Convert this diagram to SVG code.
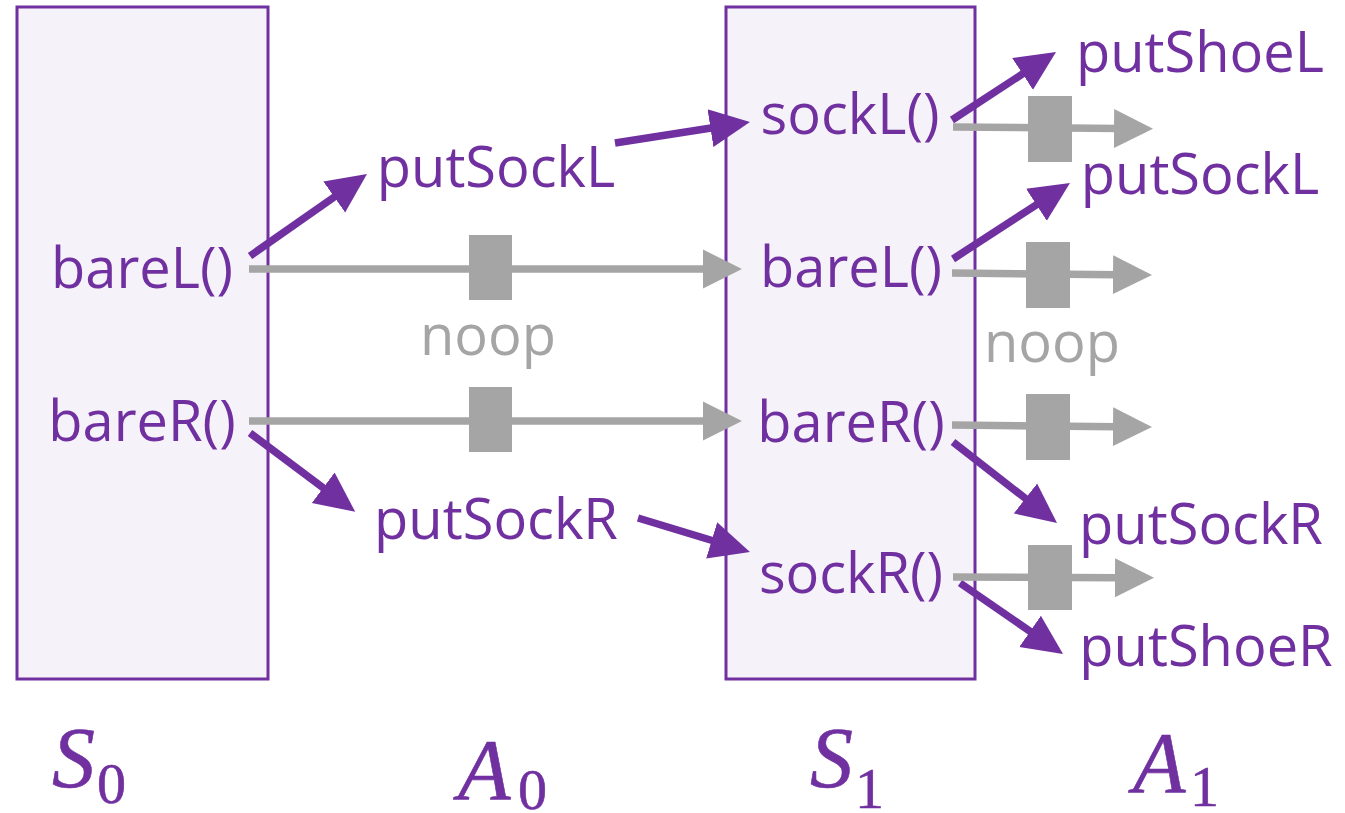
<svg xmlns="http://www.w3.org/2000/svg" width="1345" height="813" viewBox="0 0 1345 813">
  <style>
    .state { fill: #F5F2FA; stroke: #7030A0; stroke-width: 3; }
    .lbl { font-family: "Open Sans", "Liberation Sans", sans-serif; font-size: 56px; fill: #7030A0; text-anchor: middle; }
    .noop { font-family: "Open Sans", "Liberation Sans", sans-serif; font-size: 56px; fill: #A5A5A5; text-anchor: middle; }
    .act { stroke: #7030A0; stroke-width: 7.5; fill: none; marker-end: url(#headP); }
    .pass { stroke: #A5A5A5; stroke-width: 7.5; fill: none; marker-end: url(#headG); }
    .gate { fill: #A5A5A5; }
    .math { font-family: "Liberation Serif", "Times New Roman", serif; fill: #7030A0; stroke: #7030A0; stroke-width: 0.6; }
    .var { font-style: italic; font-size: 86px; }
    .sub { font-size: 58px; }
  </style>
  <defs>
    <marker id="headP" markerUnits="userSpaceOnUse" viewBox="0 -20 42 40" markerWidth="42" markerHeight="40" refX="4" refY="0" orient="auto">
      <path d="M0,-19 L40,0 L0,19 Z" fill="#7030A0"/>
    </marker>
    <marker id="headG" markerUnits="userSpaceOnUse" viewBox="0 -20 42 40" markerWidth="42" markerHeight="40" refX="4" refY="0" orient="auto">
      <path d="M0,-19.5 L39,0 L0,19.5 Z" fill="#A5A5A5"/>
    </marker>
  </defs>

  <!-- state S0 -->
  <g id="S0">
    <rect class="state" x="17" y="7" width="251" height="672"/>
    <text class="lbl" x="142" y="288">bareL()</text>
    <text class="lbl" x="142" y="441">bareR()</text>
  </g>

  <!-- state S1 -->
  <g id="S1">
    <rect class="state" x="726" y="7" width="249" height="672"/>
    <text class="lbl" x="850" y="134">sockL()</text>
    <text class="lbl" x="851" y="287">bareL()</text>
    <text class="lbl" x="851" y="442">bareR()</text>
    <text class="lbl" x="851" y="593">sockR()</text>
  </g>

  <!-- actions A0 -->
  <g id="A0">
    <text class="lbl" x="496" y="187">putSockL</text>
    <text class="lbl" x="496" y="539">putSockR</text>
    <text class="noop" x="488" y="355">noop</text>
  </g>

  <!-- actions A1 -->
  <g id="A1">
    <text class="lbl" x="1200" y="72">putShoeL</text>
    <text class="lbl" x="1200" y="194">putSockL</text>
    <text class="noop" x="1052" y="362">noop</text>
    <text class="lbl" x="1201" y="544">putSockR</text>
    <text class="lbl" x="1206" y="666">putShoeR</text>
  </g>

  <!-- connectors -->
  <g id="connectors">
    <!-- S0 to A0 to S1 -->
    <line class="act" x1="250" y1="256" x2="337.5" y2="194.7"/>
    <line class="act" x1="250" y1="433" x2="326.4" y2="490.2"/>
    <line class="act" x1="615" y1="143" x2="714.4" y2="127.5"/>
    <line class="act" x1="638" y1="518" x2="715.5" y2="541.5"/>
    <line class="pass" x1="249" y1="269" x2="707" y2="269"/>
    <line class="pass" x1="249" y1="421" x2="707" y2="421"/>
    <rect class="gate" x="469" y="235" width="43" height="65"/>
    <rect class="gate" x="469" y="387" width="43" height="65"/>

    <!-- S1 to A1 -->
    <line class="act" x1="952" y1="120" x2="1025.9" y2="71.7"/>
    <line class="act" x1="953" y1="259" x2="1039.8" y2="202.6"/>
    <line class="act" x1="953" y1="442" x2="1028.6" y2="500.9"/>
    <line class="act" x1="960" y1="583" x2="1033.4" y2="633.6"/>
    <line class="pass" x1="953" y1="127" x2="1118" y2="128.5"/>
    <line class="pass" x1="952" y1="273" x2="1117" y2="274.7"/>
    <line class="pass" x1="952" y1="425" x2="1117" y2="426.7"/>
    <line class="pass" x1="953" y1="577" x2="1119" y2="577.7"/>
    <rect class="gate" x="1028" y="96" width="44" height="66"/>
    <rect class="gate" x="1026" y="242" width="44" height="66"/>
    <rect class="gate" x="1026" y="394" width="44" height="66"/>
    <rect class="gate" x="1028" y="545" width="44" height="65"/>
  </g>

  <!-- column captions -->
  <g id="captions">
    <text class="math" x="52" y="787"><tspan class="var">S</tspan></text>
    <text class="math sub" x="97" y="803">0</text>
    <text class="math" x="458" y="799"><tspan class="var">A</tspan></text>
    <text class="math sub" x="518" y="809">0</text>
    <text class="math" x="810" y="787"><tspan class="var">S</tspan></text>
    <text class="math sub" x="855" y="808">1</text>
    <text class="math" x="1133" y="792"><tspan class="var">A</tspan></text>
    <text class="math sub" x="1190" y="806">1</text>
  </g>
</svg>
